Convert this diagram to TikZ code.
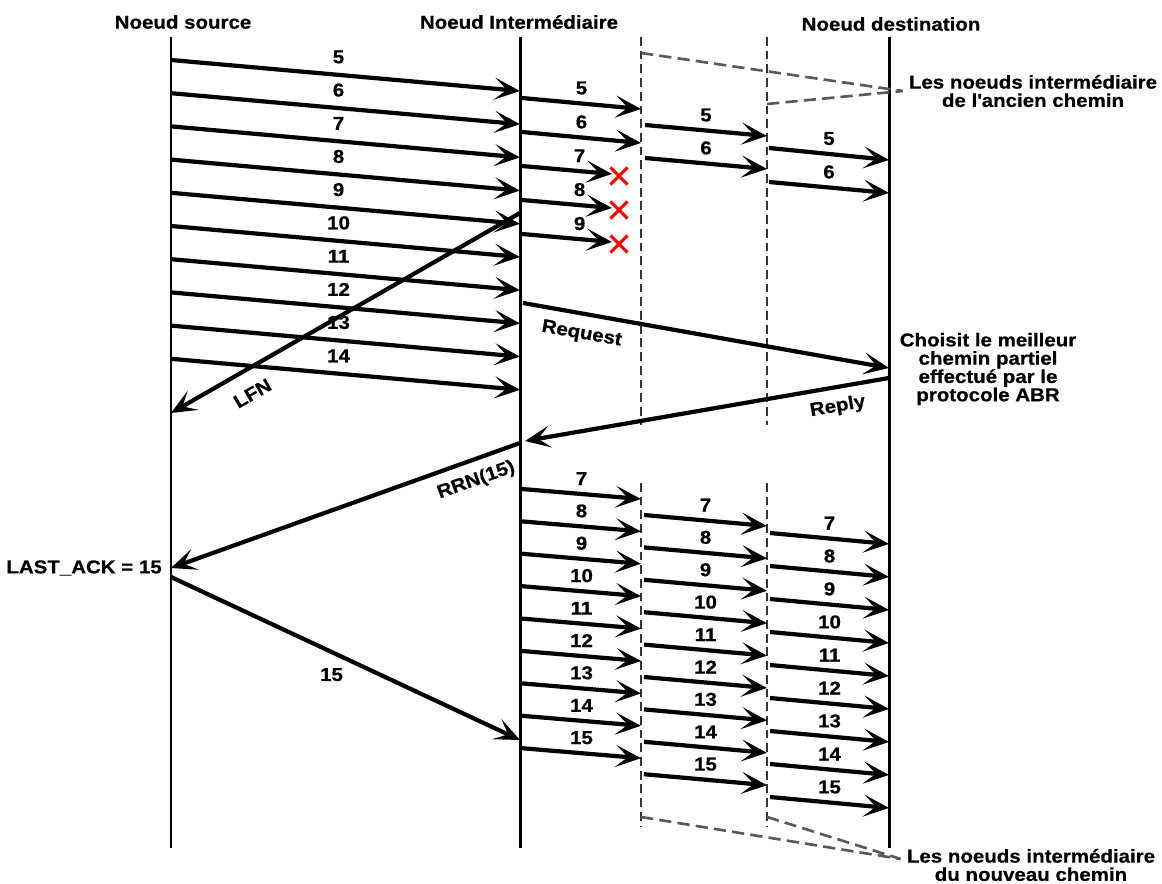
\documentclass[tikz,border=0pt]{standalone}
\usepackage{fontspec}
\setmainfont{Liberation Sans}[FakeStretch=1.1,BoldFeatures={FakeBold=0.6}]
\usetikzlibrary{calc,arrows.meta,shapes.misc}

\tikzset{
  msg/.style={line width=2.4pt,-{Stealth[length=14.5pt,width=12.5pt,inset=7pt]}},
  lifeline/.style={line width=1.7pt},
  relay/.style={line width=1.1pt,black!80,dash pattern=on 5pt off 2.8pt},
  groupline/.style={line width=1.5pt,black!65,dash pattern=on 7pt off 3.5pt},
  num/.style={inner sep=1pt},
  lost/.style={draw=red,cross out,line width=1.7pt,minimum size=8pt,inner sep=0pt},
}

\begin{document}
\begin{tikzpicture}[x=0.02cm,y=-0.02cm,
    font=\fontsize{10.6}{10.4}\selectfont\bfseries]
  \useasboundingbox (0,0) rectangle (1162,884);
  % Title
  \node (tS) at (183,22) {Noeud source};
  \node (tI) at (519,22) {Noeud Intermédiaire};
  \node (tD) at (891,24) {Noeud destination};
  % Lifelines
  \coordinate (S) at (171,37); \coordinate (S1) at (171,848);
  \coordinate (I) at (520,37); \coordinate (I1) at (520,848);
  \coordinate (D) at (889,37); \coordinate (D1) at (889,848);
  \draw [lifeline] (S) -- (S1) (I) -- (I1) (D) -- (D1);
  \draw [relay] (641,37) -- (641,425) (641,483) -- (641,827);
  \draw [relay] (767,37) -- (767,425) (767,483) -- (767,827);
  % Source -> intermediate
  \foreach \n [count=\k from 0] in {5,...,14} {
    \coordinate (s\n) at (171,{60+33.2*\k});
    \coordinate (i\n) at (520,{91+33.2*\k});
    \draw [msg] (s\n) -- node [num,above=4.3pt,pos=.48] {\n} (i\n);
  }
  % Old path
  \foreach \n [count=\k from 0] in {5,6} {
    \coordinate (a\n) at (522,{98+34*\k});
    \coordinate (b\n) at (641,{109+34*\k});
    \coordinate (c\n) at (645,{125+33*\k});
    \coordinate (d\n) at (767,{136+33*\k});
    \coordinate (e\n) at (769,{148+34*\k});
    \coordinate (f\n) at (889,{160+33*\k});
    \draw [msg] (a\n) -- node [num,above=2.9pt] {\n} (b\n);
    \draw [msg] (c\n) -- node [num,above=2.9pt] {\n} (d\n);
    \draw [msg] (e\n) -- node [num,above=2.9pt] {\n} (f\n);
  }
  \foreach \n [count=\k from 2] in {7,8,9} {
    \coordinate (a\n) at (522,{98+34*\k});
    \coordinate (b\n) at (612,{106+34*\k});
    \draw [msg] (a\n) -- node [num,above=2.9pt,pos=.64] {\n} (b\n);
    \node (x\n) [lost] at (619,{108+34*\k}) {};
  }
  \node (old) [align=center] at (1033,91)
    {Les noeuds intermédiaire\\de l\textquotesingle ancien chemin};
  \coordinate (oldtip) at (old.west);
  \draw [groupline] (641,53) -- (oldtip) (767,104) -- (oldtip);
  % Route repair
  \coordinate (lfn) at (520,213);
  \draw [msg] (lfn) -- node [num,sloped,below=7.5pt,pos=.8] {LFN} (171,413);
  \coordinate (req) at (523,303);
  \coordinate (dst) at (889,368);
  \draw [msg] (req) -- node [num,sloped,below=4.7pt,pos=.17] {Request} (dst);
  \node (abr) [align=center] at (988,369)
    {Choisit le meilleur\\chemin partiel\\effectué par le\\protocole ABR};
  \coordinate (rep) at (889,378);
  \draw [msg] (rep) -- node [num,sloped,below=4pt,pos=.15] {Reply} (525,441);
  \coordinate (rrn) at (520,443);
  \coordinate (ack) at (171,568);
  \draw [msg] (rrn) -- node [num,sloped,below=4.5pt,pos=.145] {RRN(15)} (ack);
  \node (last) [anchor=east] at (168,568) {LAST\_ACK = 15};
  \coordinate (s15) at (171,577);
  \coordinate (i15) at (520,740);
  \draw [msg] (s15) -- node [num,below=7pt,pos=.46] {15} (i15);
  % New path
  \foreach \n [count=\k from 0] in {7,...,15} {
    \coordinate (g\n) at (522,{489+32.4*\k});
    \coordinate (h\n) at (641,{499+32.4*\k});
    \coordinate (j\n) at (644,{515+32.4*\k});
    \coordinate (k\n) at (767,{526+32.4*\k});
    \coordinate (l\n) at (770,{533+33*\k});
    \coordinate (m\n) at (889,{544+33*\k});
    \draw [msg] (g\n) -- node [num,above=2.9pt] {\n} (h\n);
    \draw [msg] (j\n) -- node [num,above=2.9pt] {\n} (k\n);
    \draw [msg] (l\n) -- node [num,above=2.9pt] {\n} (m\n);
  }
  \node (new) [align=center] at (1031,865)
    {Les noeuds intermédiaire\\du nouveau chemin};
  \coordinate (newtip) at ($(new.west)+(0,-6)$);
  \draw [groupline] (641,817) -- (newtip) (767,817) -- (newtip);
\end{tikzpicture}
\end{document}
